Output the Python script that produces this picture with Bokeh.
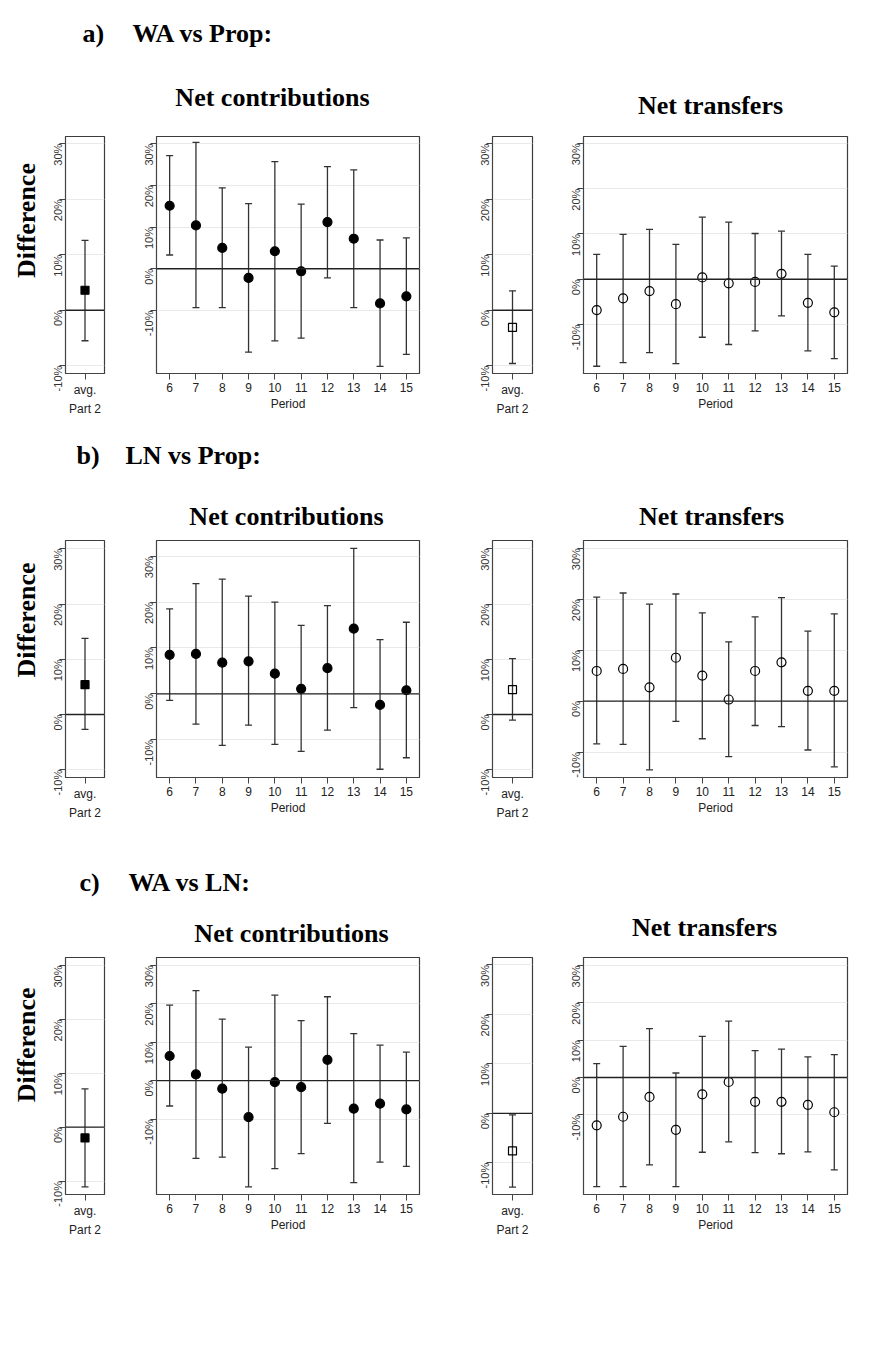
import math
from bokeh.plotting import figure
from bokeh.layouts import column, row
from bokeh.models import (Range1d, FixedTicker, CustomJSTickFormatter, Span,
                          Whisker, TeeHead, ColumnDataSource, Spacer)
from bokeh.core.properties import value
from bokeh.embed import file_html
from bokeh.resources import INLINE

# ---------------- data (differences in %) ----------------
periods = [6, 7, 8, 9, 10, 11, 12, 13, 14, 15]
y_ticks = [-10, 0, 10, 20, 30]

# a) WA vs Prop
a_avg_contrib = [3.6, -5.5, 12.6]          # est, lo, hi
a_contrib_est = [15.1, 10.4, 5.0, -2.2, 4.2, -0.6, 11.2, 7.2, -8.3, -6.6]
a_contrib_lo = [3.3, -9.3, -9.3, -20.0, -17.3, -16.6, -2.2, -9.3, -23.4, -20.5]
a_contrib_hi = [27.1, 30.3, 19.4, 15.6, 25.7, 15.5, 24.5, 23.7, 6.9, 7.4]
a_avg_transf = [-3.1, -9.6, 3.5]
a_transf_est = [-6.8, -4.2, -2.6, -5.5, 0.4, -0.9, -0.6, 1.2, -5.2, -7.3]
a_transf_lo = [-19.2, -18.4, -16.2, -18.6, -12.8, -14.4, -11.4, -8.1, -15.8, -17.5]
a_transf_hi = [5.5, 9.9, 11.0, 7.7, 13.7, 12.6, 10.1, 10.6, 5.5, 2.9]

# b) LN vs Prop
b_avg_contrib = [5.4, -2.7, 13.8]
b_contrib_est = [8.5, 8.7, 6.8, 7.1, 4.4, 1.1, 5.6, 14.2, -2.4, 0.8]
b_contrib_lo = [-1.4, -6.6, -11.2, -6.8, -11.0, -12.5, -7.9, -3.0, -16.4, -13.9]
b_contrib_hi = [18.5, 24.0, 25.0, 21.3, 20.0, 14.9, 19.2, 31.7, 11.8, 15.6]
b_avg_transf = [4.5, -1.0, 10.1]
b_transf_est = [5.9, 6.3, 2.7, 8.5, 5.0, 0.3, 5.9, 7.6, 2.0, 2.0]
b_transf_lo = [-8.4, -8.5, -13.5, -4.0, -7.4, -10.9, -4.8, -5.0, -9.6, -12.9]
b_transf_hi = [20.4, 21.2, 19.0, 21.0, 17.3, 11.6, 16.5, 20.3, 13.7, 17.1]

# c) WA vs LN
c_avg_contrib = [-2.0, -11.1, 7.1]
c_contrib_est = [6.4, 1.6, -2.1, -9.5, -0.4, -1.7, 5.4, -7.3, -6.0, -7.5]
c_contrib_lo = [-6.6, -20.2, -19.9, -27.6, -22.9, -19.0, -11.1, -26.5, -21.2, -22.3]
c_contrib_hi = [19.6, 23.4, 16.0, 8.7, 22.2, 15.6, 21.8, 12.2, 9.2, 7.4]
c_avg_transf = [-7.6, -14.9, -0.3]
c_transf_est = [-12.8, -10.5, -5.2, -14.0, -4.5, -1.2, -6.5, -6.5, -7.3, -9.3]
c_transf_lo = [-29.2, -29.2, -23.4, -29.2, -20.0, -17.2, -20.1, -20.4, -19.9, -24.7]
c_transf_hi = [3.7, 8.3, 13.1, 1.2, 11.0, 15.1, 7.2, 7.6, 5.5, 6.1]

headings = [("a)", "WA vs Prop:"), ("b)", "LN vs Prop:"), ("c)", "WA vs LN:")]
title_contrib = "Net contributions"
title_transf = "Net transfers"
y_title = "Difference"
avg_label = "avg."
avg_axis = "Part 2"
period_axis = "Period"

# ---------------- styling / layout ----------------
SERIF = "Liberation Serif"
SANS = "Liberation Sans"
W = 883
FRAME_H = 237
BOTTOM = 47

rows_cfg = [
    dict(strip_h=124, top=12, head_y=33, head_x=(82, 132), tc=(272, 97), tt=(710, 105), diff_y=105,
         yr=[(-11.4, 31.3), (-25.1, 31.7), (-11.4, 31.3), (-20.8, 31.5)],
         data=[a_avg_contrib, (a_contrib_est, a_contrib_lo, a_contrib_hi),
               a_avg_transf, (a_transf_est, a_transf_lo, a_transf_hi)]),
    dict(strip_h=112, top=8, head_y=35, head_x=(76, 125), tc=(286, 96), tt=(711, 96), diff_y=98,
         yr=[(-11.4, 31.5), (-18.2, 33.4), (-11.4, 31.5), (-15.0, 31.5)],
         data=[b_avg_contrib, (b_contrib_est, b_contrib_lo, b_contrib_hi),
               b_avg_transf, (b_transf_est, b_transf_lo, b_transf_hi)]),
    dict(strip_h=124, top=9, head_y=58, head_x=(79, 128), tc=(291, 109), tt=(704, 103), diff_y=108,
         yr=[(-12.5, 31.5), (-29.6, 32.0), (-16.4, 31.5), (-31.3, 32.1)],
         data=[c_avg_contrib, (c_contrib_est, c_contrib_lo, c_contrib_hi),
               c_avg_transf, (c_transf_est, c_transf_lo, c_transf_hi)]),
]

# panel geometry: (fig width, min_border_left, min_border_right)
LABEL_W = 43
geom = [(77, 21, 16), (320, 36, 21), (110, 52, 18), (333, 33, 36)]


def blank(width, height):
    p = figure(width=width, height=height, x_range=Range1d(0, width), y_range=Range1d(0, height),
               toolbar_location=None, output_backend="svg", x_axis_type=None, y_axis_type=None,
               min_border=0, outline_line_color=None)
    p.grid.visible = False
    return p


def serif_text(p, x, y, txt, align="left", angle=0.0):
    p.text(x=[x], y=[y], text=[txt], text_font=value(SERIF), text_font_style="bold",
           text_font_size="26px", text_color="black", text_align=align,
           text_baseline="middle", angle=angle)


def strip(cfg, letter, head):
    h = cfg["strip_h"]
    p = blank(W, h)
    serif_text(p, cfg["head_x"][0], h - cfg["head_y"], letter)
    serif_text(p, cfg["head_x"][1], h - cfg["head_y"], head)
    serif_text(p, cfg["tc"][0], h - cfg["tc"][1], title_contrib, align="center")
    serif_text(p, cfg["tt"][0], h - cfg["tt"][1], title_transf, align="center")
    return p


def ylabel_fig(cfg):
    ph = cfg["top"] + FRAME_H + BOTTOM
    p = blank(LABEL_W, ph)
    serif_text(p, 26, ph - cfg["diff_y"], y_title, align="center", angle=math.pi / 2)
    return p


def panel(idx, cfg, yr, data, filled):
    width, ml, mr = geom[idx]
    ph = cfg["top"] + FRAME_H + BOTTOM
    small = idx in (0, 2)
    if small:
        xr = Range1d(0.5, 1.5)
        est, lo, hi = [data[0]], [data[1]], [data[2]]
        xs = [1]
    else:
        xr = Range1d(5.5, 15.5)
        est, lo, hi = data
        xs = periods
    p = figure(width=width, height=ph, x_range=xr, y_range=Range1d(*yr),
               toolbar_location=None, output_backend="svg",
               min_border_left=ml, min_border_right=mr, min_border_top=cfg["top"],
               min_border_bottom=BOTTOM)
    p.outline_line_color = "#3c3c3c"
    p.outline_line_width = 1.2
    p.background_fill_color = "white"
    p.xgrid.visible = False
    p.ygrid.ticker = FixedTicker(ticks=y_ticks)
    p.ygrid.grid_line_color = "#e9e9e9"
    p.ygrid.grid_line_width = 1

    ya = p.yaxis[0]
    ya.ticker = FixedTicker(ticks=y_ticks)
    ya.formatter = CustomJSTickFormatter(code="return tick + '%';")
    ya.major_label_orientation = math.pi / 2
    ya.major_label_text_font = SANS
    ya.major_label_text_font_size = "11px"
    ya.major_label_text_color = "#333333"
    ya.major_label_standoff = 1
    ya.major_tick_out = 6
    ya.major_tick_in = 0
    ya.major_tick_line_color = "#444444"
    ya.minor_tick_line_color = None
    ya.axis_line_color = "#444444"

    xa = p.xaxis[0]
    if small:
        xa.ticker = FixedTicker(ticks=[1])
        xa.formatter = CustomJSTickFormatter(code="return '%s';" % avg_label)
        xa.axis_label = avg_axis
    else:
        xa.ticker = FixedTicker(ticks=periods)
        xa.axis_label = period_axis
    xa.major_label_text_font = SANS
    xa.major_label_text_font_size = "12px"
    xa.major_label_text_color = "#222222"
    xa.major_label_standoff = 3
    xa.major_tick_out = 6
    xa.major_tick_in = 0
    xa.major_tick_line_color = "#444444"
    xa.minor_tick_line_color = None
    xa.axis_line_color = "#444444"
    xa.axis_label_text_font = SANS
    xa.axis_label_text_font_size = "12px"
    xa.axis_label_text_font_style = "normal"
    xa.axis_label_text_color = "#222222"
    xa.axis_label_standoff = 2

    p.add_layout(Span(location=0, dimension="width", line_color="#222222", line_width=1.3))

    src = ColumnDataSource(dict(x=xs, est=est, lo=lo, hi=hi))
    w = Whisker(source=src, base="x", upper="hi", lower="lo", line_color="#333333", line_width=1.3,
                upper_head=TeeHead(size=7, line_color="#333333", line_width=1.3),
                lower_head=TeeHead(size=7, line_color="#333333", line_width=1.3))
    p.add_layout(w)
    marker = "square" if small else "circle"
    size = 8 if small else 9
    p.scatter("x", "est", source=src, marker=marker, size=size,
              fill_color="black" if filled else None, line_color="black", line_width=1.2)
    return p


items = []
used = 0
for cfg, (letter, head) in zip(rows_cfg, headings):
    items.append(strip(cfg, letter, head))
    figs = [ylabel_fig(cfg)]
    for i in range(4):
        figs.append(panel(i, cfg, cfg["yr"][i], cfg["data"][i], filled=(i < 2)))
    items.append(row(*figs, spacing=0))
    used += cfg["strip_h"] + cfg["top"] + FRAME_H + BOTTOM

items.append(Spacer(width=W, height=1368 - used - 2))

layout = column(*items, spacing=0)

open("out.html", "w").write(file_html(layout, INLINE))
